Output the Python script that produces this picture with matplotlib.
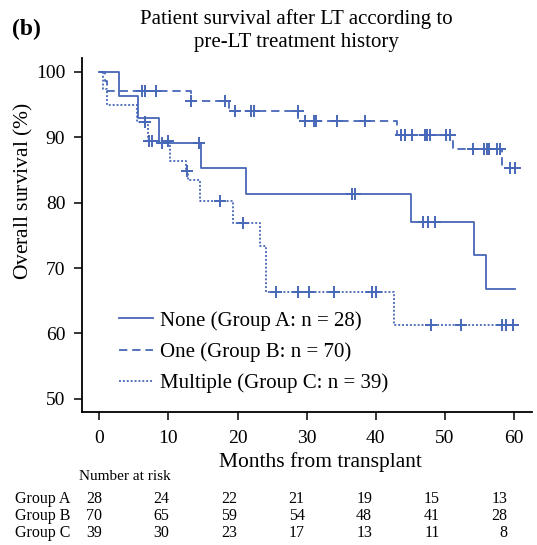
import matplotlib
matplotlib.use('Agg')
import matplotlib.pyplot as plt
import matplotlib.transforms as mtransforms
import numpy as np

plt.rcParams['font.family'] = ['Liberation Serif', 'DejaVu Serif']
plt.rcParams['mathtext.fontset'] = 'custom'
plt.rcParams['mathtext.rm'] = 'Liberation Serif'
plt.rcParams['mathtext.it'] = 'Liberation Serif:italic'
plt.rcParams['lines.scale_dashes'] = False

# survival steps (months, %)
months_a = [0, 2.9, 5.6, 8.6, 14.7, 21.2, 45.1, 54.2, 56.0, 60.1]
surv_a = [100, 96.3, 92.9, 89.1, 85.3, 81.3, 77.1, 72.0, 66.8, 66.8]
censor_a = [9.1, 14.4, 36.5, 37.0, 46.9, 47.6, 48.6]

months_b = [0, 0.8, 1.1, 13.2, 18.8, 28.8, 43.1, 51.1, 58.3, 60.3]
surv_b = [100, 98.6, 97.1, 95.6, 94.0, 92.4, 90.4, 88.2, 85.3, 85.3]
censor_b = [6.2, 6.6, 8.2, 13.3, 18.2, 19.6, 22.0, 22.4, 28.7, 29.8, 31.0,
            31.4, 34.4, 38.4, 43.6, 44.2, 45.3, 47.1, 47.4, 47.9, 50.1, 50.8,
            54.0, 55.6, 56.1, 56.4, 57.5, 58.0, 59.4, 60.1]

months_c = [0, 0.6, 1.1, 5.4, 7.1, 10.3, 12.6, 12.9, 14.6, 19.3, 23.3, 24.1,
            42.7, 60.3]
surv_c = [100, 97.4, 94.9, 92.3, 89.4, 86.4, 84.9, 83.4, 80.2, 76.9, 73.3,
          66.3, 61.3, 61.3]
censor_c = [6.6, 7.2, 7.6, 10.0, 12.7, 17.4, 20.8, 25.6, 28.8, 30.3, 33.9,
            39.4, 40.1, 48.0, 52.4, 58.2, 58.9, 59.9]

labels = ['None (Group A: n = 28)', 'One (Group B: n = 70)',
          'Multiple (Group C: n = 39)']
group_names = ['Group A', 'Group B', 'Group C']

risk_times = [0, 10, 20, 30, 40, 50, 60]
risk_a = [28, 24, 22, 21, 19, 15, 13]
risk_b = [70, 65, 59, 54, 48, 41, 28]
risk_c = [39, 30, 23, 17, 13, 11, 8]

color = '#4767b8'
styles = ['-', (0, (6, 3.5)), (0, (1.4, 1.4))]

fig = plt.figure(figsize=(5.37, 5.45), dpi=100)
ax = fig.add_axes([82/537, 1-412/545, 450/537, 354/545])


def surv_at(months, surv, t):
    i = np.searchsorted(months, t, side='right') - 1
    return np.asarray(surv)[i]


groups = [(months_a, surv_a, censor_a), (months_b, surv_b, censor_b),
          (months_c, surv_c, censor_c)]
for (m, s, c), ls, lab in zip(groups, styles, labels):
    ax.step(m, s, where='post', color=color, lw=1.3, ls=ls, label=lab)
    ax.plot(c, surv_at(m, s, c), ls='none', marker='+', ms=9, mew=1.4,
            color=color)

ax.set_xlim(-2.5, 62.6)
ax.set_ylim(48, 102.1)
ax.set_xticks(risk_times)
ax.set_yticks([50, 60, 70, 80, 90, 100])
for sp in ['top', 'right']:
    ax.spines[sp].set_visible(False)
for sp in ['left', 'bottom']:
    ax.spines[sp].set_linewidth(1.3)
ax.tick_params(direction='out', length=6, width=1.1, labelsize=14)
ax.tick_params(axis='x', pad=7)
ax.tick_params(axis='y', pad=6)
ax.set_xlabel('Months from transplant', fontsize=15.5)
ax.set_ylabel(r'Overall survival ($\mathit{\%}$)', fontsize=15.5)
ax.xaxis.set_label_coords(0.529, -0.113)
ax.yaxis.set_label_coords(-0.105, 0.624)

ax.legend(loc='lower left', bbox_to_anchor=(0.058, 0.024), frameon=False,
          fontsize=15, handlelength=1.65, handletextpad=0.35,
          labelspacing=0.55, borderpad=0)

fig.text(12/537, 1-29/545, '(b)', fontsize=17, fontweight='bold',
         ha='left', va='center')
fig.text(296/537, 1-31/545,
         'Patient survival after LT according to\npre-LT treatment history',
         fontsize=15, ha='center', va='center', linespacing=1.28)

# number at risk table
fig.text(79/537, 1-476/545, 'Number at risk', fontsize=11, ha='left',
         va='center')
trans = mtransforms.blended_transform_factory(ax.transData, fig.transFigure)
col_x = 0.4 + np.array(risk_times) * 0.977
for row, (name, vals) in enumerate(zip(group_names, [risk_a, risk_b, risk_c])):
    y = 1 - (499 + 17 * row) / 545
    fig.text(15/537, y, name, fontsize=11.5, ha='left', va='center')
    for x, v in zip(col_x, vals):
        ax.text(x, y, str(v), fontsize=11.5, ha='right', va='center',
                transform=trans, clip_on=False)

fig.savefig('out.png', dpi=100)
